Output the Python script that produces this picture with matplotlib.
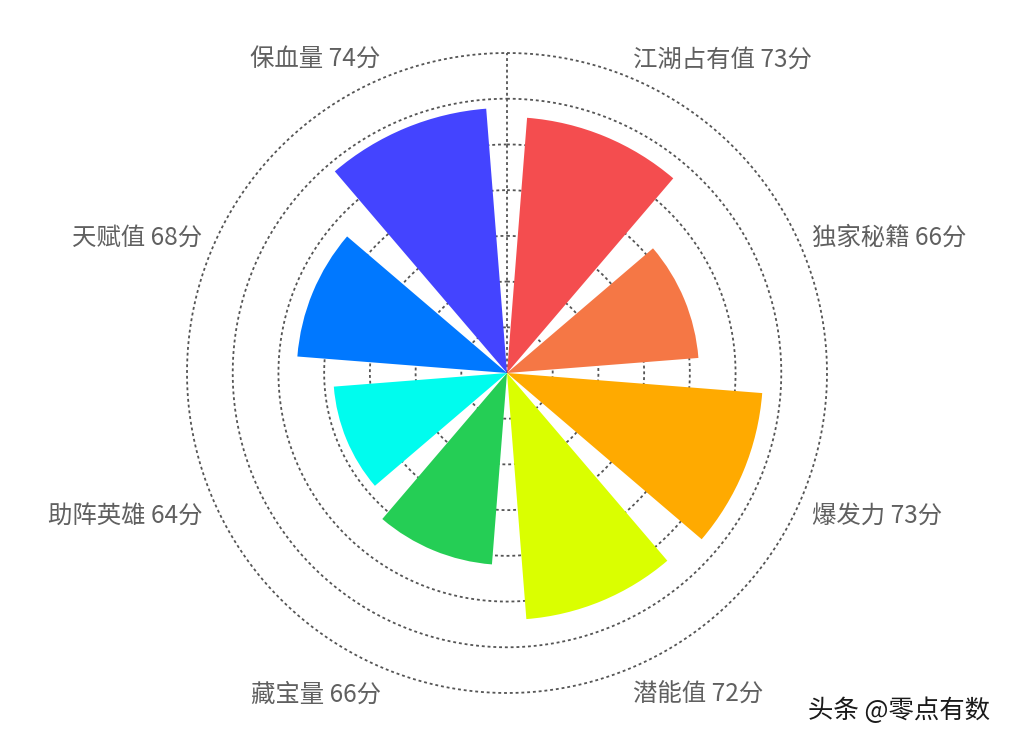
import numpy as np
import matplotlib
matplotlib.use("Agg")
import matplotlib.pyplot as plt

plt.rcParams['font.family'] = ['Noto Sans CJK SC', 'DejaVu Sans']

categories = ["江湖占有值", "独家秘籍", "爆发力", "潜能值", "藏宝量", "助阵英雄", "天赋值", "保血量"]
values = [73, 66, 73, 72, 66, 64, 68, 74]
colors = ["#F44D4F", "#F57745", "#FFAA00", "#DAFF00", "#25CE55", "#00FCEE", "#0078FF", "#4444FF"]
r_min, r_max = 45, 80
r_ticks = [50, 55, 60, 65, 70, 75, 80]
unit = "分"

fig = plt.figure(figsize=(10.12, 7.45), dpi=100)
W, H = 1012, 745
cx, cy, R = 507, 373, 320
ax = fig.add_axes([(cx - R) / W, (H - cy - R) / H, 2 * R / W, 2 * R / H], projection='polar')
ax.set_theta_zero_location('N')
ax.set_theta_direction(-1)
ax.set_ylim(r_min, r_max)
ax.set_xticks([])
ax.set_yticks([])
ax.grid(False)
ax.spines['polar'].set_visible(False)
ax.patch.set_alpha(0)

n = len(categories)
step = 2 * np.pi / n
theta = (np.arange(n) + 0.5) * step

# grid circles
full = np.linspace(0, 2 * np.pi, 721)
dot = (0, (1.6, 1.6))
for r in r_ticks:
    ax.plot(full, [r] * len(full), color='#555555', lw=1.3, ls=dot, zorder=1, clip_on=False)
ax.plot([0, 0], [r_min, r_max], color='#555555', lw=1.3, ls=dot, zorder=1, clip_on=False)

vals = np.array(values)
ax.bar(theta, vals - r_min, width=step * 0.8, bottom=r_min, color=colors,
       edgecolor='none', zorder=3)

label_r = 81.1
for t, c, v in zip(theta, categories, values):
    ha = 'left' if np.sin(t) > 0 else 'right'
    va = 'bottom' if np.cos(t) > 0 else 'top'
    ax.annotate(f"{c} {v}{unit}", xy=(t, label_r), xytext=(0, -3),
                textcoords='offset points', ha=ha, va=va, fontsize=17.6,
                color='#606060', annotation_clip=False)

fig.text(808 / W, 1 - 711 / H, "头条 @零点有数", ha='left', va='center',
         fontsize=18.3, color='#1a1a1a')

fig.savefig("out.png", dpi=100, facecolor='white')
